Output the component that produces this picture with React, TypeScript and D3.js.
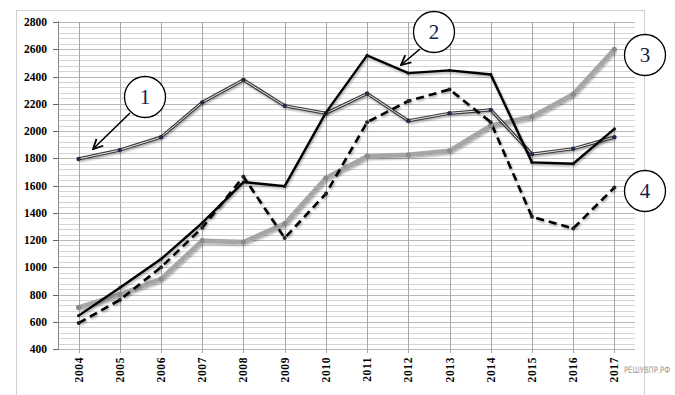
import React, { useEffect, useRef } from "react";
import * as d3 from "d3";

const years = [2004, 2005, 2006, 2007, 2008, 2009, 2010, 2011, 2012, 2013, 2014, 2015, 2016, 2017];
const series1 = [1795, 1860, 1955, 2210, 2375, 2185, 2130, 2275, 2075, 2130, 2155, 1830, 1870, 1955];
const series2 = [645, 850, 1060, 1325, 1625, 1595, 2135, 2555, 2425, 2445, 2415, 1770, 1760, 2015];
const series3 = [705, 800, 915, 1195, 1185, 1320, 1655, 1815, 1825, 1855, 2040, 2105, 2270, 2600];
const series4 = [590, 760, 1000, 1290, 1665, 1215, 1540, 2065, 2220, 2305, 2065, 1370, 1285, 1585];
const yTicks = [400, 600, 800, 1000, 1200, 1400, 1600, 1800, 2000, 2200, 2400, 2600, 2800];

const App = () => {
    const ref = useRef(null);

    useEffect(() => {
        const svg = d3.select(ref.current);
        svg.selectAll("*").remove();

        const x = d3.scaleBand().domain(years.map(String)).range([58, 635]);
        const cx = d => x(String(d)) + x.bandwidth() / 2;
        const y = d3.scaleLinear().domain([400, 2800]).range([349, 22]);

        const defs = svg.append("defs");
        const f = defs.append("filter").attr("id", "shadow").attr("x", "-10%").attr("y", "-10%").attr("width", "120%").attr("height", "120%");
        f.append("feDropShadow").attr("dx", 1).attr("dy", 1.5).attr("stdDeviation", 1.2).attr("flood-color", "#000").attr("flood-opacity", 0.35);
        const m = defs.append("marker").attr("id", "arrow").attr("viewBox", "0 0 10 10")
            .attr("refX", 9).attr("refY", 5).attr("markerWidth", 12).attr("markerHeight", 12)
            .attr("orient", "auto").attr("markerUnits", "userSpaceOnUse");
        m.append("path").attr("d", "M1,1 L9,5 L1,9").attr("fill", "none").attr("stroke", "#000").attr("stroke-width", 1.5);

        // outer frame
        svg.append("rect").attr("x", 16.5).attr("y", 10.5).attr("width", 628).attr("height", 400)
            .attr("fill", "#fff").attr("stroke", "#d0d0d0");

        // horizontal grid
        const minor = d3.range(400, 2801, 40);
        svg.append("g").selectAll("line").data(minor).enter().append("line")
            .attr("x1", 58).attr("x2", 635)
            .attr("y1", d => Math.round(y(d)) + 0.5).attr("y2", d => Math.round(y(d)) + 0.5)
            .attr("stroke", d => (d % 200 === 0 ? "#b8b8b8" : "#d4d4d4"))
            .attr("stroke-width", 1);

        // vertical grid
        svg.append("g").selectAll("line").data(years).enter().append("line")
            .attr("x1", d => Math.round(cx(d)) + 0.5).attr("x2", d => Math.round(cx(d)) + 0.5)
            .attr("y1", 22).attr("y2", 353)
            .attr("stroke", "#a8a8a8");

        // y axis
        svg.append("line").attr("x1", 58.5).attr("x2", 58.5).attr("y1", 21).attr("y2", 350).attr("stroke", "#888");
        const yg = svg.append("g");
        yg.selectAll("line").data(yTicks).enter().append("line")
            .attr("x1", 53).attr("x2", 58)
            .attr("y1", d => Math.round(y(d)) + 0.5).attr("y2", d => Math.round(y(d)) + 0.5)
            .attr("stroke", "#666");
        yg.selectAll("text").data(yTicks).enter().append("text")
            .attr("x", 47).attr("y", d => y(d) + 4)
            .attr("text-anchor", "end")
            .style("font-family", "'Liberation Serif', serif").style("font-weight", "bold").style("font-size", "11.5px")
            .text(d => d);

        // x labels
        svg.append("g").selectAll("text").data(years).enter().append("text")
            .attr("transform", d => `translate(${cx(d) + 4},357) rotate(-90)`)
            .attr("text-anchor", "end")
            .style("font-family", "'Liberation Serif', serif").style("font-weight", "bold").style("font-size", "11.5px")
            .style("letter-spacing", "0.6px")
            .text(d => d);

        const line = d3.line().x((d, i) => cx(years[i])).y(d => y(d));

        const lines = svg.append("g");
        // 3 gray thick
        lines.append("path").attr("d", line(series3)).attr("fill", "none")
            .attr("stroke", "#a6a6a6").attr("stroke-width", 4.5).attr("stroke-linejoin", "round")
            .attr("filter", "url(#shadow)");
        // 1 double line
        lines.append("path").attr("d", line(series1)).attr("fill", "none")
            .attr("stroke", "#3a3a3a").attr("stroke-width", 3.2).attr("filter", "url(#shadow)");
        lines.append("path").attr("d", line(series1)).attr("fill", "none")
            .attr("stroke", "#e8e8e8").attr("stroke-width", 1);
        // 4 dashed
        lines.append("path").attr("d", line(series4)).attr("fill", "none")
            .attr("stroke", "#000").attr("stroke-width", 2.6).attr("stroke-dasharray", "8,5")
            .attr("filter", "url(#shadow)");
        // 2 solid black
        lines.append("path").attr("d", line(series2)).attr("fill", "none")
            .attr("stroke", "#000").attr("stroke-width", 2.4).attr("filter", "url(#shadow)");

        const markers = [
            { data: series3, fill: "#8a8a8a", r: 2.6 },
            { data: series1, fill: "#1f2a44", r: 2.2 },
            { data: series4, fill: "#222", r: 2 },
            { data: series2, fill: "#111", r: 1.6 }
        ];
        markers.forEach(s => {
            lines.append("g").selectAll("circle").data(s.data).enter().append("circle")
                .attr("cx", (d, i) => cx(years[i])).attr("cy", d => y(d))
                .attr("r", s.r).attr("fill", s.fill);
        });

        // callouts
        const callouts = [
            { label: "1", cx: 145, cy: 97, from: [130, 113], to: [93, 149] },
            { label: "2", cx: 434, cy: 32, from: [420, 49], to: [401, 65] },
            { label: "3", cx: 645, cy: 55 },
            { label: "4", cx: 645, cy: 191 }
        ];
        callouts.forEach(c => {
            if (c.from) {
                svg.append("line").attr("x1", c.from[0]).attr("y1", c.from[1])
                    .attr("x2", c.to[0]).attr("y2", c.to[1])
                    .attr("stroke", "#000").attr("stroke-width", 1.6).attr("marker-end", "url(#arrow)");
            }
            svg.append("circle").attr("cx", c.cx).attr("cy", c.cy).attr("r", 20.5)
                .attr("fill", "#fff").attr("stroke", "#000").attr("stroke-width", 1.3);
            svg.append("text").attr("x", c.cx).attr("y", c.cy + 7)
                .attr("text-anchor", "middle")
                .style("font-family", "'Liberation Serif', serif").style("font-size", "21px")
                .style("fill", "#10204a")
                .text(c.label);
        });

        // watermark (condensed by a horizontal scale)
        svg.append("text").attr("transform", "translate(624,373) scale(0.76,1)")
            .style("font-family", "'DejaVu Sans', sans-serif").style("font-size", "9px").style("fill", "#9a9a9a")
            .text("РЕШУВПР.РФ");
    }, []);

    return (
        <svg ref={ref} width={675} height={395} style={{ position: "absolute", left: 0, top: 0, background: "#fff" }} />
    );
};

export default App;
